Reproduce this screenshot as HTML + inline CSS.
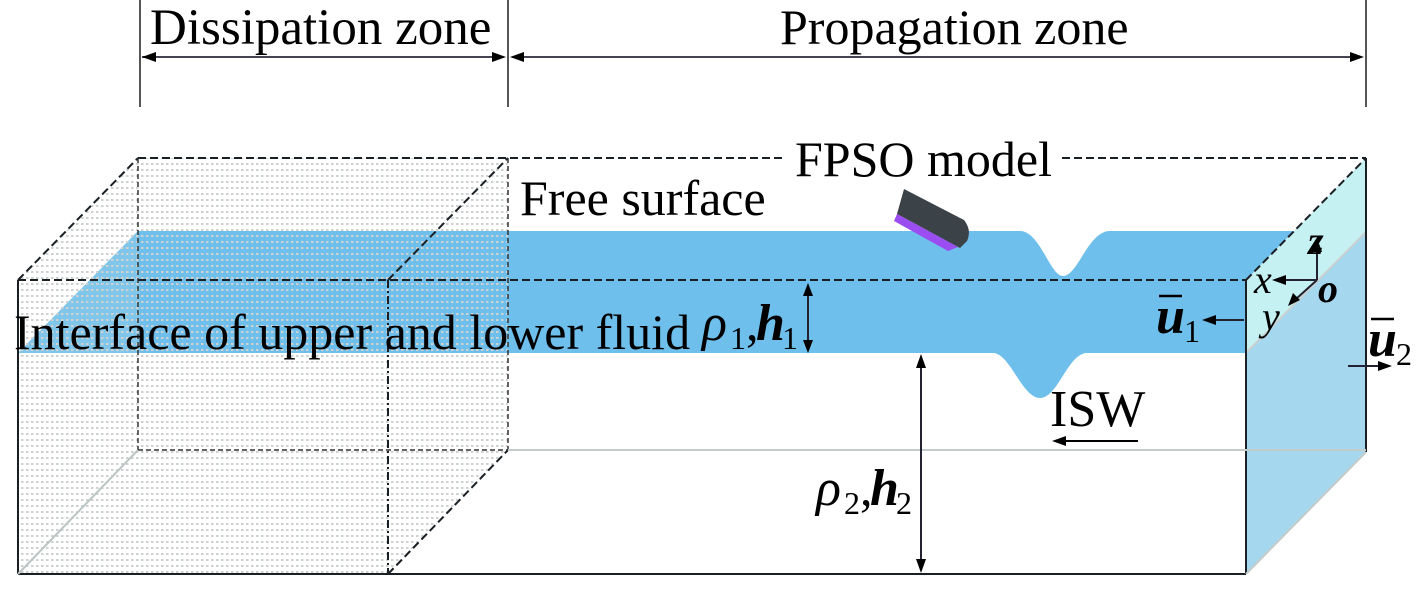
<!DOCTYPE html>
<html><head><meta charset="utf-8"><style>
html,body{margin:0;padding:0;background:#fff;}
svg{display:block;}
text{font-family:"Liberation Serif",serif;fill:#000;}
</style></head><body>
<svg width="1418" height="592" viewBox="0 0 1418 592" xmlns="http://www.w3.org/2000/svg" font-family="Liberation Serif, serif">
<defs>
<pattern id="dots" width="5" height="6" patternUnits="userSpaceOnUse">
<rect x="1" y="1" width="2.5" height="2" fill="#cdd1d1"/>
</pattern>
</defs>

<!-- top dimension lines -->
<g stroke="#555" stroke-width="2">
<line x1="140" y1="0" x2="140" y2="107"/>
<line x1="508" y1="0" x2="508" y2="107"/>
<line x1="1366" y1="0" x2="1366" y2="107"/>
</g>
<g stroke="#445" stroke-width="2">
<line x1="142" y1="57" x2="496" y2="57"/>
<line x1="520" y1="57" x2="1354" y2="57"/>
</g>
<path d="M142,57 L156,52 L156,62Z M506,57 L492,52 L492,62Z M510,57 L524,52 L524,62Z M1364,57 L1350,52 L1350,62Z" fill="#000"/>
<text x="150" y="44" font-size="51" font-family="Liberation Serif, serif">Dissipation zone</text>
<text x="780" y="44" font-size="50" font-family="Liberation Serif, serif">Propagation zone</text>

<!-- blue layer -->
<path d="M138,231 L1020,231 C1040,231 1050,276 1063,276 C1078,276 1088,231 1110,231 L1294,231 L1246,280 L1246,353 L1087,353 C1068,353 1058,398 1040,398 C1022,398 1010,353 993,353 L18,353 Z" fill="#6fbfec"/>
<path d="M18,353 L138,231 L140,280 L140,353 Z" fill="#8ccbeb" opacity="0.6"/>

<!-- right face -->
<path d="M1246,280 L1366,158 L1366,452 L1246,574 Z" fill="#a5d8ef"/>
<path d="M1246,280 L1366,158 L1366,232 L1246,353 Z" fill="#c6f1f3"/>
<line x1="1246" y1="353" x2="1366" y2="232" stroke="#c8d0d0" stroke-width="2"/>

<!-- dotted dissipation region -->
<path d="M18,280 L138,158 L508,158 L508,450 L388,574 L18,574 Z" fill="url(#dots)"/>

<!-- lines -->
<g stroke="#1a1f24" stroke-width="2" fill="none">
<line x1="18" y1="280" x2="18" y2="574"/>
<line x1="18" y1="574" x2="1246" y2="574"/>
<line x1="1246" y1="280" x2="1246" y2="574"/>
<line x1="1366" y1="158" x2="1366" y2="452"/>
</g>
<g stroke="#1a1f24" stroke-width="2" fill="none" stroke-dasharray="8,4">
<line x1="18" y1="280" x2="1246" y2="280"/>
<line x1="138" y1="158" x2="785" y2="158"/>
<line x1="1062" y1="158" x2="1366" y2="158"/>
<line x1="18" y1="280" x2="138" y2="158"/>
<line x1="1246" y1="280" x2="1366" y2="158"/>
<line x1="388" y1="280" x2="508" y2="158"/>
<line x1="388" y1="574" x2="508" y2="450"/>
<line x1="388" y1="280" x2="388" y2="574" stroke-dasharray="8,3,2,3"/>
</g>
<g stroke="#333" stroke-width="1.5" fill="none" stroke-dasharray="5,3">
<line x1="138" y1="158" x2="138" y2="450"/>
<line x1="508" y1="158" x2="508" y2="450"/>
<line x1="138" y1="450" x2="508" y2="450"/>
</g>
<line x1="508" y1="450" x2="1366" y2="450" stroke="#c4cbcb" stroke-width="2"/>
<line x1="1246" y1="574" x2="1366" y2="452" stroke="#c4cbcb" stroke-width="2"/>
<line x1="18" y1="574" x2="138" y2="450" stroke="#bcc4c4" stroke-width="2"/>

<!-- ship -->
<path d="M904,189 L964,220 Q972,230 967,241 L960,248 L897,214 Z" fill="#3b4248"/>
<path d="M897,214 L958,247 L948,251 L894,221 Z" fill="#9a4df0"/>

<!-- h arrows -->
<g stroke="#223" stroke-width="2">
<line x1="808" y1="290" x2="808" y2="346"/>
<line x1="921" y1="360" x2="921" y2="566"/>
</g>
<path d="M808,283 L803,296 L813,296Z M808,353 L803,340 L813,340Z M921,354 L916,368 L926,368Z M921,573 L916,559 L926,559Z" fill="#000"/>

<!-- ISW arrow -->
<line x1="1064" y1="441" x2="1138" y2="441" stroke="#000" stroke-width="2"/>
<path d="M1052,441 L1066,436 L1066,446Z" fill="#000"/>

<!-- axes -->
<g stroke="#223" stroke-width="2">
<line x1="1317" y1="280" x2="1317" y2="248"/>
<line x1="1317" y1="280" x2="1282" y2="280"/>
<line x1="1317" y1="280" x2="1296" y2="299"/>
<line x1="1212" y1="320" x2="1244" y2="320"/>
<line x1="1348" y1="366" x2="1380" y2="366"/>
</g>
<path d="M1317,238 L1312,252 L1322,252Z M1272,280 L1286,275 L1286,285Z M1288,306 L1293,293 L1300,300Z M1202,320 L1216,315 L1216,325Z M1392,366 L1378,361 L1378,371Z" fill="#000"/>

<!-- texts -->
<g font-family="Liberation Serif, serif">
<text x="795" y="176" font-size="50">FPSO model</text>
<text x="520" y="215" font-size="50">Free surface</text>
<text x="14" y="349" font-size="50">Interface of upper and lower fluid</text>
<text x="702" y="340" font-size="52" font-style="italic">ρ</text>
<text x="730" y="349" font-size="32">1</text>
<text x="746" y="340" font-size="50">,</text>
<text x="756" y="340" font-size="52" font-style="italic" font-weight="bold">h</text>
<text x="782" y="349" font-size="32">1</text>
<text x="816" y="505" font-size="52" font-style="italic">ρ</text>
<text x="844" y="514" font-size="32">2</text>
<text x="860" y="505" font-size="50">,</text>
<text x="870" y="505" font-size="52" font-style="italic" font-weight="bold">h</text>
<text x="896" y="514" font-size="32">2</text>
<text x="1050" y="426" font-size="52">ISW</text>
<text x="1156" y="333" font-size="52" font-style="italic" font-weight="bold">u</text>
<line x1="1159" y1="296" x2="1182" y2="296" stroke="#000" stroke-width="2.5"/>
<text x="1184" y="342" font-size="32">1</text>
<text x="1368" y="356" font-size="52" font-style="italic" font-weight="bold">u</text>
<line x1="1371" y1="319" x2="1394" y2="319" stroke="#000" stroke-width="2.5"/>
<text x="1396" y="365" font-size="32">2</text>
<text x="1308" y="254" font-size="40" font-style="italic" font-weight="bold">z</text>
<text x="1254" y="293" font-size="40" font-style="italic">x</text>
<text x="1318" y="302" font-size="40" font-style="italic" font-weight="bold">o</text>
<text x="1262" y="330" font-size="40" font-style="italic">y</text>
</g>
</svg>
</body></html>
